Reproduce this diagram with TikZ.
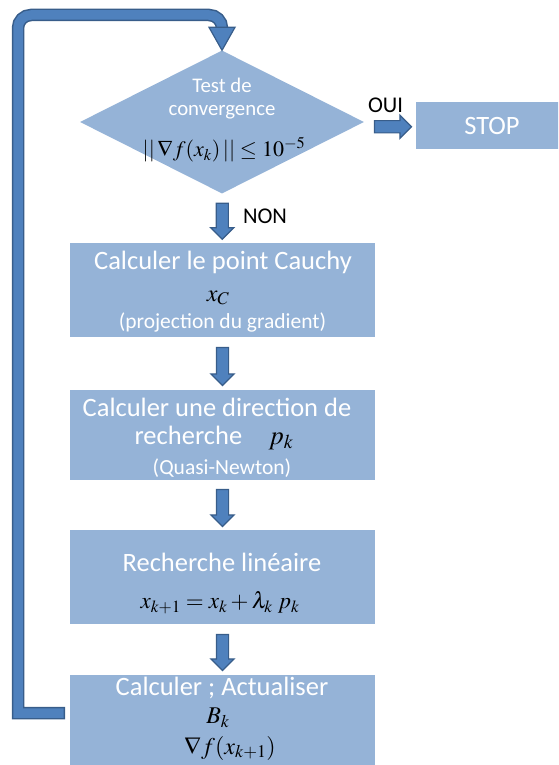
\documentclass[tikz,border=0pt]{standalone}
\usepackage{mathptmx}
\usepackage[no-math]{fontspec}
\setmainfont{Carlito}
\usetikzlibrary{shapes.geometric,shapes.arrows,calc}
\definecolor{boxfill}{HTML}{95B3D7}
\definecolor{arrfill}{HTML}{4F81BD}
\definecolor{arrline}{HTML}{385D8A}
\begin{document}
\begin{tikzpicture}[x=1pt,y=-1pt,
  box/.style={rectangle, fill=boxfill, draw=none, minimum width=305pt, inner sep=0pt},
  wt/.style={text=white, inner sep=0pt, font=\fontsize{26.5}{30}\selectfont},
  ws/.style={text=white, inner sep=0pt, font=\fontsize{21.5}{24}\selectfont},
  wd/.style={text=white, inner sep=0pt, font=\fontsize{20.8}{24}\selectfont},
  mt/.style={text=black, inner sep=0pt, font=\fontsize{24}{28}\selectfont},
  lab/.style={text=black, inner sep=0pt, font=\fontsize{22.5}{26}\selectfont},
  blockarr/.style={single arrow, fill=arrfill, draw=arrline, line width=1.2pt,
    inner xsep=0pt, inner ysep=5.5pt, single arrow head extend=5.5pt,
    single arrow head indent=0pt, minimum height=#1},
]
\useasboundingbox (0,0) rectangle (558,765);
\clip (0,0) rectangle (558,765);

% shapes
\node[diamond, fill=boxfill, minimum width=284pt, minimum height=143pt, inner sep=0pt] (d) at (222,122) {};
\node[rectangle, fill=boxfill, minimum width=152pt, minimum height=47pt, inner sep=0pt,
      text=white, font=\fontsize{26.5}{30}\selectfont] (stop) at (492,125.5) {STOP};
\node[box, minimum height=94pt] (b1) at (222.5,290) {};
\node[box, minimum height=90pt] (b2) at (222.5,435) {};
\node[box, minimum height=94pt] (b3) at (222.5,577) {};
\node[box, minimum height=105pt] (b4) at (222.5,727.5) {};

% block arrows
\node[blockarr=37pt] (aoui) at ($(d.east)!0.5!(stop.west)+(0,3)$) {};
\node[blockarr=36pt, rotate=-90] (anon) at ($(d.south)!0.5!(b1.north)$) {};
\node[blockarr=38pt, rotate=-90] (a2) at ($(b1.south)!0.5!(b2.north)$) {};
\node[blockarr=37pt, rotate=-90] (a3) at ($(b2.south)!0.5!(b3.north)$) {};
\node[blockarr=36pt, rotate=-90] (a4) at ($(b3.south)!0.5!(b4.north)$) {};

% loop back connector
\coordinate (ls) at (65,713);
\coordinate (lsi) at (63.6,713);
\draw[line width=12.5pt, arrline] (ls) -- (18,713) [rounded corners=13pt] -- (18,15) -| ($(d.north)+(0,-20)$);
\draw[line width=9.5pt, arrfill] (lsi) -- (18,713) [rounded corners=13pt] -- (18,15) -| ($(d.north)+(0,-21.5)$);
\filldraw[fill=arrfill, draw=arrline, line width=1.2pt, line join=miter]
  ($(d.north)+(-13,-23)$) -- ($(d.north)+(13,-23)$) -- (d.north) -- cycle;

% labels
\node[lab] (oui) at (385.5,105) {OUI};
\node[lab] (non) at (265,216) {NON};

% diamond text
\node[wd] (t1) at (222,85) {Test de};
\node[wd] (t2) at (222,112) {convergence};
\node[mt, font=\fontsize{22}{26}\selectfont] (t3) at (224,150) {$||\,\nabla f(x_k)\,||\mathrel{\le}10^{-5}$};

% box 1
\node[wt] (c1) at (223,262) {Calculer le point Cauchy};
\node[mt] (c2) at (218,298) {$x_C$};
\node[ws] (c3) at (222.5,322) {(projection du gradient)};

% box 2
\node[wt] (d1) at (217,407) {Calculer une direction de};
\node[wt] (d2) at (214,438) {recherche\quad\textcolor{black}{$p_k$}};
\node[ws] (d3) at (222,468) {(Quasi-Newton)};

% box 3
\node[wt] (e1) at (222,562) {Recherche linéaire};
\node[mt, font=\fontsize{23}{27}\selectfont] (e2) at (220,603) {$x_{k+1}=x_k+\lambda_k\;p_k$};

% box 4
\node[wt] (f1) at (222,688) {Calculer ; Actualiser};
\node[mt] (f2) at (218,718) {$B_k$};
\node[mt] (f3) at (230,748) {$\nabla f(x_{k+1})$};
\end{tikzpicture}
\end{document}
